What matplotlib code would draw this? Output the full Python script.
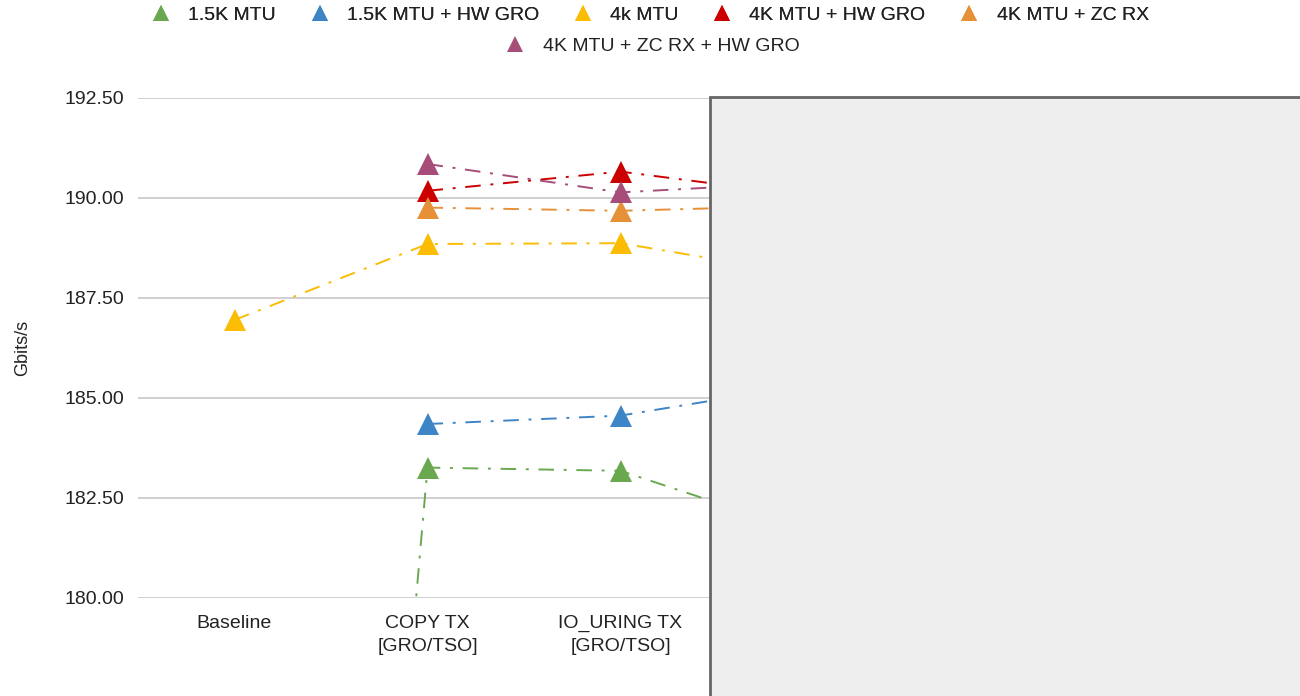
import matplotlib.pyplot as plt
from matplotlib.lines import Line2D
from matplotlib.patches import Rectangle
import numpy as np

plt.rcParams['font.family'] = ['Liberation Sans', 'DejaVu Sans']

# categories (the ones on the right are covered by the grey panel)
categories = ["Baseline", "COPY TX\n[GRO/TSO]", "IO_URING TX\n[GRO/TSO]", ""]

nan = np.nan
mtu15 = [128.0, 183.26, 183.18, 181.58]
mtu15_hwgro = [nan, 184.35, 184.56, 185.35]
mtu4k = [186.95, 188.85, 188.87, 188.06]
mtu4k_hwgro = [nan, 190.18, 190.66, 190.04]
mtu4k_zcrx = [nan, 189.76, 189.68, 189.81]
mtu4k_zcrx_hwgro = [nan, 190.85, 190.14, 190.40]

series = [
    ("1.5K MTU", mtu15, "#6aa84f"),
    ("1.5K MTU + HW GRO", mtu15_hwgro, "#3d85c6"),
    ("4k MTU", mtu4k, "#fbbc04"),
    ("4K MTU + HW GRO", mtu4k_hwgro, "#cc0000"),
    ("4K MTU + ZC RX", mtu4k_zcrx, "#e69138"),
    ("4K MTU + ZC RX + HW GRO", mtu4k_zcrx_hwgro, "#a64d79"),
]

fig = plt.figure(figsize=(13, 6.96), dpi=100)
ax = fig.add_axes([138 / 1300, 98 / 696, 1158 / 1300, 500 / 696])

x = np.arange(len(categories))
handles = []
for name, vals, col in series:
    ax.plot(x, vals, color=col, lw=1.4, dashes=(8, 5, 1.5, 5),
            marker="^", markersize=16, markeredgewidth=0, label=name)
    handles.append(Line2D([], [], color=col, marker="^", markersize=11,
                          markeredgewidth=0, linestyle="none", label=name))

ax.set_xlim(-0.5, 5.5)
ax.set_ylim(180, 192.5)
ax.set_yticks(np.arange(180, 192.51, 2.5))
ax.set_yticklabels([f"{v:.2f}" for v in np.arange(180, 192.51, 2.5)])
ax.set_xticks(x)
ax.set_xticklabels(categories, linespacing=1.45)
ax.tick_params(axis="both", length=0, labelsize=14, colors="#222222")
ax.tick_params(axis="x", pad=12)
ax.tick_params(axis="y", pad=10)
ax.grid(axis="y", color="#cccccc", lw=1.3)
ax.set_axisbelow(True)
for s in ax.spines.values():
    s.set_visible(False)
ax.set_ylabel("Gbits/s", fontsize=13, color="#222222", labelpad=24)

common = dict(frameon=False, fontsize=14, handlelength=1.0, handletextpad=0.9,
              columnspacing=1.75, borderpad=0, borderaxespad=0, loc="center",
              labelcolor="#222222")
leg1 = fig.legend(handles=handles[:5], ncol=5, bbox_to_anchor=(0.5, 1 - 15 / 696), **common)
fig.legend(handles=handles[5:], ncol=1, bbox_to_anchor=(0.502, 1 - 46 / 696), **common)
fig.add_artist(leg1)

# grey panel covering the right part of the chart
fig.add_artist(Rectangle((710 / 1300, -0.05), 0.6, 0.05 + (696 - 97) / 696,
                         transform=fig.transFigure, facecolor="#eeeeee",
                         edgecolor="#666666", lw=2, zorder=10))

fig.savefig("out.png", dpi=100)
